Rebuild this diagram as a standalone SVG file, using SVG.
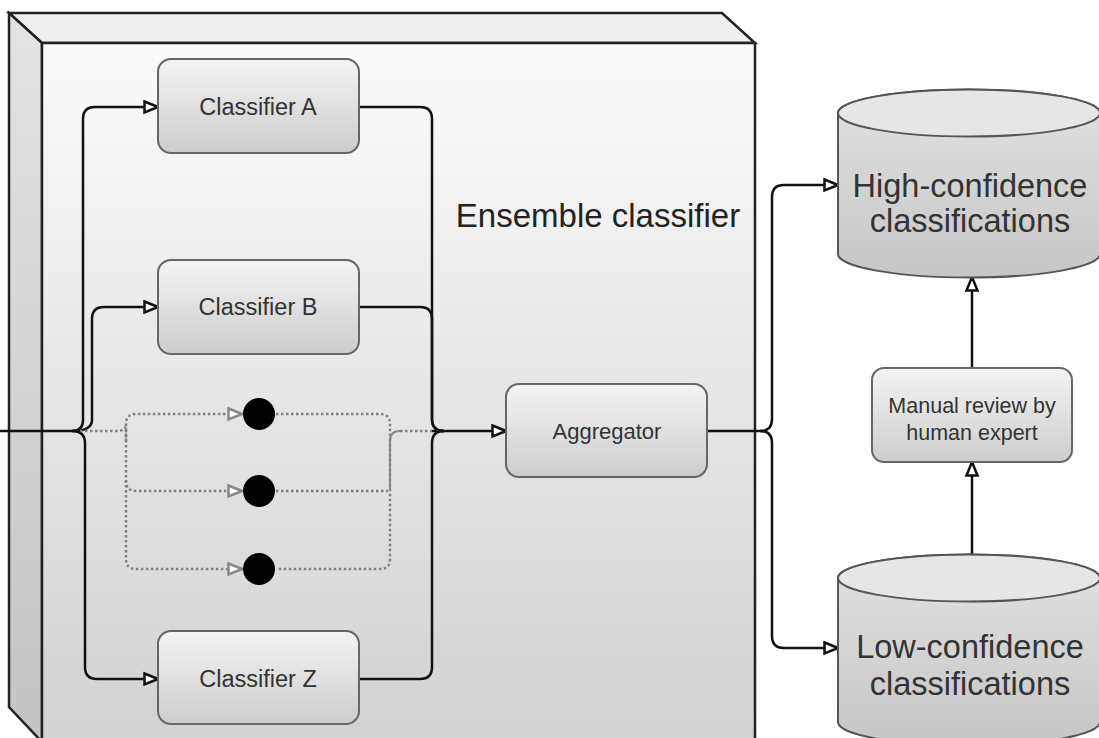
<svg xmlns="http://www.w3.org/2000/svg" width="1099" height="738" viewBox="0 0 1099 738">
<defs>
<linearGradient id="gFront" x1="0" y1="0" x2="0" y2="1">
<stop offset="0" stop-color="#fbfbfb"/><stop offset="1" stop-color="#d2d2d2"/>
</linearGradient>
<linearGradient id="gLeft" x1="0" y1="0" x2="0" y2="1">
<stop offset="0" stop-color="#e4e4e4"/><stop offset="1" stop-color="#c4c4c4"/>
</linearGradient>
<linearGradient id="gBox" x1="0" y1="0" x2="0" y2="1">
<stop offset="0" stop-color="#f4f4f4"/><stop offset="1" stop-color="#cdcdcd"/>
</linearGradient>
<linearGradient id="gCyl" x1="0" y1="0" x2="0" y2="1">
<stop offset="0" stop-color="#e2e2e2"/><stop offset="1" stop-color="#c6c6c6"/>
</linearGradient>
<marker id="arr" markerUnits="userSpaceOnUse" markerWidth="18" markerHeight="16" refX="15" refY="7" orient="auto" viewBox="0 0 18 14">
<path d="M1.5,1.5 L15,7 L1.5,12.5 Z" fill="#fff" stroke="#111" stroke-width="2.5" stroke-linejoin="miter"/>
</marker>
<marker id="arrG" markerUnits="userSpaceOnUse" markerWidth="18" markerHeight="16" refX="15" refY="7" orient="auto" viewBox="0 0 18 14">
<path d="M1.5,1.5 L15,7 L1.5,12.5 Z" fill="#fff" stroke="#888" stroke-width="2.5"/>
</marker>
</defs>
<style>
.box{fill:url(#gBox);stroke:#666;stroke-width:2}
.cyl{fill:url(#gCyl);stroke:#555;stroke-width:2}
.lbl{font-family:"Liberation Sans",Arial,sans-serif;fill:#333;text-anchor:middle}
.c{fill:none;stroke:#111;stroke-width:2.5}
.d{fill:none;stroke:#808080;stroke-width:2.5;stroke-dasharray:2.5 2.5}
.dot{fill:#000}
</style>

<g id="ensemble">
<polygon points="9,13 722,13 755,43 42,43" fill="#efefef" stroke="#222" stroke-width="2.5"/>
<polygon points="9,13 42,43 42,742 9,707" fill="url(#gLeft)" stroke="#222" stroke-width="2.5"/>
<rect x="42" y="43" width="713" height="700" fill="url(#gFront)" stroke="#222" stroke-width="2.5"/>
<text class="lbl" x="598" y="227" font-size="33" style="fill:#222">Ensemble classifier</text>
</g>

<g id="connectors">
<path class="c" d="M0,431 H72"/>
<path class="c" d="M72,431 Q83,431 83,420 V119 Q83,107 95,107 H158" marker-end="url(#arr)"/>
<path class="c" d="M72,431 Q92,431 92,420 V319 Q92,307 104,307 H158" marker-end="url(#arr)"/>
<path class="c" d="M72,431 Q85,431 85,443 V667 Q85,679 97,679 H158" marker-end="url(#arr)"/>
<path class="c" d="M359,107 H420 Q432,107 432,119 V419 Q432,431 444,431"/>
<path class="c" d="M359,307 H420 Q432,307 432,319 V419 Q432,431 444,431"/>
<path class="c" d="M359,679 H420 Q432,679 432,667 V443 Q432,431 444,431"/>
<path class="c" d="M432,431 H506" marker-end="url(#arr)"/>
<path class="d" d="M80,431 H116 Q126,431 126,424"/>
<path class="d" d="M126,441 V424 Q126,414 136,414 H242" marker-end="url(#arrG)"/>
<path class="d" d="M126,430 V481 Q126,491 136,491 H242" marker-end="url(#arrG)"/>
<path class="d" d="M126,480 V559 Q126,569 136,569 H242" marker-end="url(#arrG)"/>
<path class="d" d="M276,414 H380 Q390,414 390,424 V559 Q390,569 380,569 H276"/>
<path class="d" d="M276,491 H388"/>
<path d="M390,491 V441 Q390,431 400,431" fill="none" stroke="#888" stroke-width="2"/>
<path class="d" d="M400,431 H432"/>
<path class="c" d="M707,431 H760 Q772,431 772,419 V197 Q772,185 784,185 H838" marker-end="url(#arr)"/>
<path class="c" d="M760,431 Q772,431 772,443 V636 Q772,648 784,648 H838" marker-end="url(#arr)"/>
<path class="c" d="M972,555 V462" marker-end="url(#arr)"/>
<path class="c" d="M972,368 V277" marker-end="url(#arr)"/>
</g>

<g id="classifierA">
<rect class="box" x="158" y="59" width="201" height="94" rx="13"/>
<text class="lbl" x="258" y="115" font-size="23.5">Classifier A</text>
</g>
<g id="classifierB">
<rect class="box" x="158" y="260" width="201" height="94" rx="13"/>
<text class="lbl" x="258" y="315" font-size="23.5">Classifier B</text>
</g>
<g id="classifierZ">
<rect class="box" x="158" y="631" width="201" height="93" rx="13"/>
<text class="lbl" x="258" y="687" font-size="23.5">Classifier Z</text>
</g>
<g id="placeholders">
<circle class="dot" cx="259" cy="414" r="16"/>
<circle class="dot" cx="259" cy="491" r="16"/>
<circle class="dot" cx="259" cy="569" r="16"/>
</g>
<g id="aggregator">
<rect class="box" x="506" y="384" width="201" height="93" rx="13"/>
<text class="lbl" x="607" y="439" font-size="22">Aggregator</text>
</g>

<g id="highConfidence">
<path class="cyl" d="M838,113 A131,23.5 0 0,1 1100,113 V254 A131,23.5 0 0,1 838,254 Z"/>
<ellipse cx="969" cy="113" rx="131" ry="23.5" fill="#e6e6e6" stroke="#555" stroke-width="2"/>
<text class="lbl" x="970" y="197" font-size="32.5">High-confidence</text>
<text class="lbl" x="970" y="232" font-size="32.5">classifications</text>
</g>
<g id="manualReview">
<rect class="box" x="872" y="368" width="200" height="94" rx="12"/>
<text class="lbl" x="972" y="413" font-size="21.5">Manual review by</text>
<text class="lbl" x="972" y="440" font-size="21.5">human expert</text>
</g>
<g id="lowConfidence">
<path class="cyl" d="M838,578 A131,23.5 0 0,1 1100,578 V722 A131,23.5 0 0,1 838,722 Z"/>
<ellipse cx="969" cy="578" rx="131" ry="23.5" fill="#e6e6e6" stroke="#555" stroke-width="2"/>
<text class="lbl" x="970" y="658" font-size="32.5">Low-confidence</text>
<text class="lbl" x="970" y="695" font-size="32.5">classifications</text>
</g>
</svg>
